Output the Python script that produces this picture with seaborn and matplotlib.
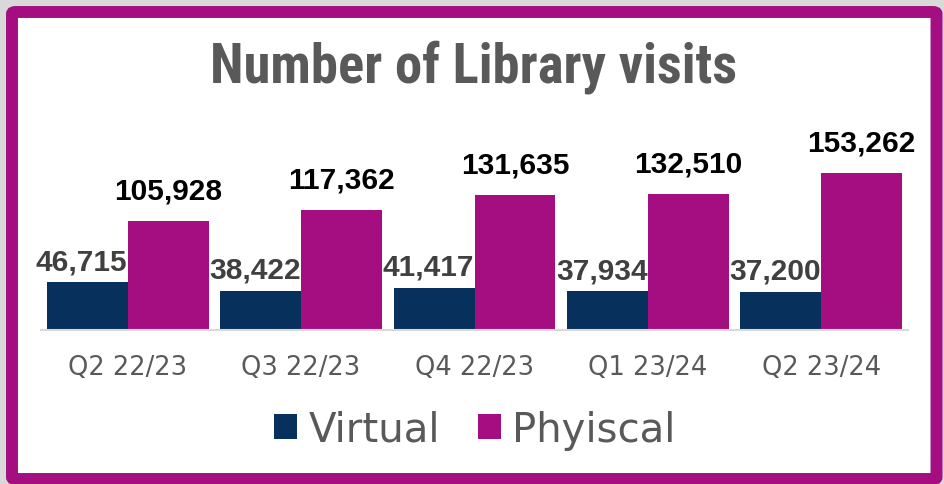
import pandas as pd
import numpy as np
import matplotlib
matplotlib.use("Agg")
import matplotlib.pyplot as plt
import seaborn as sns
from matplotlib import font_manager
from matplotlib.patches import FancyBboxPatch, Patch

# ── data ────────────────────────────────────────────────────────────────
quarters = ["Q2 22/23", "Q3 22/23", "Q4 22/23", "Q1 23/24", "Q2 23/24"]
virtual = [46715, 38422, 41417, 37934, 37200]
physical = [105928, 117362, 131635, 132510, 153262]
series_names = ["Virtual", "Phyiscal"]
colors = ["#07305d", "#a50e80"]

df = pd.DataFrame({
    "quarter": quarters * 2,
    "visits": virtual + physical,
    "type": [series_names[0]] * len(quarters) + [series_names[1]] * len(quarters),
})

# ── figure ──────────────────────────────────────────────────────────────
sns.set_style("white")
W, H = 944, 485
fig = plt.figure(figsize=(W / 100, H / 100), dpi=100)
fig.patch.set_facecolor("#d9d9d9")

# magenta frame
frame = FancyBboxPatch((12 / W, 1 - 480 / H), (936.5 - 12) / W, (480 - 13) / H,
                       boxstyle="round,pad=0,rounding_size=0.004",
                       transform=fig.transFigure, facecolor="white",
                       edgecolor="#a50e80", linewidth=8.6, zorder=-5)
fig.patches.append(frame)

ax = fig.add_axes([41 / W, 1 - 331 / H, 867 / W, (331 - 121) / H])
ax.set_facecolor("none")
sns.barplot(data=df, x="quarter", y="visits", hue="type", palette=colors,
            width=0.934, gap=0, saturation=1, ax=ax, legend=False,
            edgecolor="none")
ax.set_ylim(0, 205000)
ax.set_xlim(-0.5, len(quarters) - 0.5)

# value labels
for cont, col, dy, dx in zip(ax.containers, ["#404040", "#000000"], [5, 12], [-4, 0]):
    for bar in cont:
        h = bar.get_height()
        ax.annotate(f"{h:,.0f}", (bar.get_x() + bar.get_width() / 2, h),
                    xytext=(dx, dy), textcoords="offset points",
                    ha="center", va="bottom", fontsize=21.5, fontweight="bold",
                    color=col, family=["Liberation Sans", "DejaVu Sans"])

sns.despine(ax=ax, left=True, top=True, right=True)
ax.spines["bottom"].set_color("#d9d9d9")
ax.spines["bottom"].set_linewidth(1.5)
ax.set_yticks([])
ax.set_xlabel("")
ax.set_ylabel("")
ax.tick_params(axis="x", length=0, pad=17, labelsize=18.5, labelcolor="#595959")

# title: narrow bold face if available, shrink to the reference width otherwise
installed = {f.name for f in font_manager.fontManager.ttflist}
title_fam = [f for f in ["Liberation Sans Narrow", "Roboto Condensed", "Liberation Sans"]
             if f in installed] + ["DejaVu Sans"]
title = fig.text(473.5 / W, 1 - 67 / H, "Number of Library visits", ha="center",
                 va="center", fontsize=40, fontweight="bold", color="#595959",
                 family=title_fam[0])
renderer = fig.canvas.get_renderer()
tw = title.get_window_extent(renderer).width
if tw > 530:
    title.set_fontsize(40 * 527 / tw)

handles = [Patch(facecolor=c, edgecolor="none") for c in colors]
fig.legend(handles, series_names, loc="center", bbox_to_anchor=(475 / W, 1 - 431 / H),
           ncol=2, frameon=False, fontsize=29, labelcolor="#595959",
           handlelength=0.57, handleheight=0.57, handletextpad=0.28,
           columnspacing=0.95, borderpad=0)

fig.savefig("out.png", dpi=100, facecolor=fig.get_facecolor())
